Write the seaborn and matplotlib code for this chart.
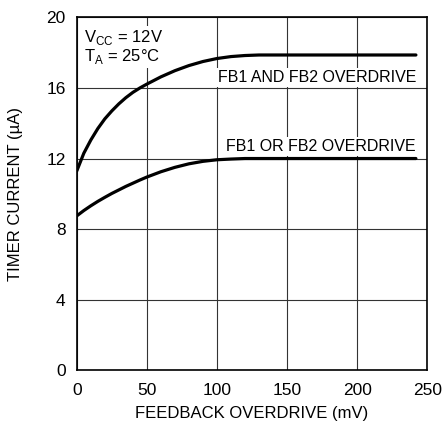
import pandas as pd
import matplotlib
matplotlib.use('Agg')
import matplotlib.pyplot as plt
import seaborn as sns

overdrive = [0, 5, 10, 15, 20, 25, 30, 35, 40, 45, 50, 60, 70, 80, 90, 100, 110, 120, 130, 150, 200, 242]
and_current = [11.3, 12.3, 13.05, 13.7, 14.25, 14.7, 15.1, 15.45, 15.75, 16.0, 16.22, 16.63, 16.98,
               17.27, 17.5, 17.67, 17.78, 17.84, 17.87, 17.87, 17.87, 17.87]
or_current = [8.75, 9.05, 9.32, 9.57, 9.8, 10.02, 10.22, 10.42, 10.6, 10.78, 10.95, 11.25, 11.5,
              11.7, 11.84, 11.93, 11.97, 12.0, 12.0, 12.0, 12.0, 12.0]

df = pd.DataFrame({'mV': overdrive, 'and': and_current, 'or': or_current})

sns.set_style('white')
plt.rcParams['font.family'] = ['Liberation Sans', 'DejaVu Sans']
plt.rcParams['mathtext.fontset'] = 'custom'
plt.rcParams['mathtext.rm'] = 'Liberation Sans'
plt.rcParams['text.color'] = 'black'
plt.rcParams['axes.labelcolor'] = 'black'
plt.rcParams['xtick.color'] = 'black'
plt.rcParams['ytick.color'] = 'black'

fig = plt.figure(figsize=(4.44, 4.25), dpi=100)
ax = fig.add_axes([0.173, 0.129, 0.789, 0.830])

sns.lineplot(data=df, x='mV', y='and', color='black', lw=2.3, ax=ax)
sns.lineplot(data=df, x='mV', y='or', color='black', lw=2.3, ax=ax)

ax.set_xlim(0, 250)
ax.set_ylim(0, 20)
ax.set_xticks([0, 50, 100, 150, 200, 250])
ax.set_yticks([0, 4, 8, 12, 16, 20])
ax.grid(True, color='#333333', lw=0.8)
ax.tick_params(length=0, labelsize=12.5)
ax.tick_params(axis='x', pad=9)
ax.tick_params(axis='y', pad=8)
for s in ax.spines.values():
    s.set_color('black')
    s.set_linewidth(1.2)

ax.set_xlabel('FEEDBACK OVERDRIVE (mV)', fontsize=12, labelpad=6)
ax.set_ylabel('TIMER CURRENT (µA)', fontsize=12, labelpad=17)

box = dict(facecolor='white', edgecolor='none', pad=1.5)
ax.text(5, 19.4, r'V$_{\mathregular{CC}}$ = 12V', fontsize=12, va='top', ha='left', bbox=box)
ax.text(5, 18.3, r'T$_{\mathregular{A}}$ = 25°C', fontsize=12, va='top', ha='left', bbox=box)
ax.text(242, 16.35, 'FB1 AND FB2 OVERDRIVE', fontsize=11.5, ha='right', va='baseline', bbox=box)
ax.text(242, 12.45, 'FB1 OR FB2 OVERDRIVE', fontsize=11.5, ha='right', va='baseline', bbox=box)

fig.savefig('out.png', dpi=100)
